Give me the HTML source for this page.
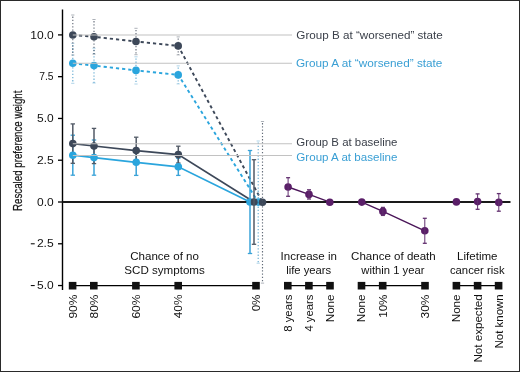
<!DOCTYPE html>
<html><head><meta charset="utf-8"><style>
html,body{margin:0;padding:0;background:#fff;}
svg{display:block;font-family:"Liberation Sans",sans-serif;}
svg{will-change:transform;}
</style></head><body>
<svg width="520" height="372" viewBox="0 0 520 372">
<rect x="0.5" y="0.5" width="519" height="371" fill="#fff" stroke="#2a2a2a" stroke-width="1"/>
<line x1="62.5" y1="9.5" x2="62.5" y2="290" stroke="#000" stroke-width="1.4"/>
<line x1="58" y1="34.90" x2="62.5" y2="34.90" stroke="#000" stroke-width="1.3"/>
<text x="30.29" y="38.60" font-size="11.5" fill="#111" textLength="23.39" lengthAdjust="spacingAndGlyphs">10.0</text>
<line x1="58" y1="76.67" x2="62.5" y2="76.67" stroke="#000" stroke-width="1.3"/>
<text x="39.27" y="80.38" font-size="11.5" fill="#111" textLength="14.36" lengthAdjust="spacingAndGlyphs">7.5</text>
<line x1="58" y1="118.45" x2="62.5" y2="118.45" stroke="#000" stroke-width="1.3"/>
<text x="37.02" y="122.15" font-size="11.5" fill="#111" textLength="16.65" lengthAdjust="spacingAndGlyphs">5.0</text>
<line x1="58" y1="160.22" x2="62.5" y2="160.22" stroke="#000" stroke-width="1.3"/>
<text x="36.90" y="163.92" font-size="11.5" fill="#111" textLength="16.81" lengthAdjust="spacingAndGlyphs">2.5</text>
<line x1="58" y1="202.00" x2="62.5" y2="202.00" stroke="#000" stroke-width="1.3"/>
<text x="37.03" y="205.70" font-size="11.5" fill="#111" textLength="16.64" lengthAdjust="spacingAndGlyphs">0.0</text>
<line x1="58" y1="243.78" x2="62.5" y2="243.78" stroke="#000" stroke-width="1.3"/>
<text x="36.90" y="247.47" font-size="11.5" fill="#111" textLength="16.81" lengthAdjust="spacingAndGlyphs">2.5</text>
<line x1="30.8" y1="243.78" x2="34.7" y2="243.78" stroke="#111" stroke-width="1.1"/>
<line x1="58" y1="285.55" x2="62.5" y2="285.55" stroke="#000" stroke-width="1.3"/>
<text x="37.02" y="289.25" font-size="11.5" fill="#111" textLength="16.65" lengthAdjust="spacingAndGlyphs">5.0</text>
<line x1="30.8" y1="285.55" x2="34.7" y2="285.55" stroke="#111" stroke-width="1.1"/>
<text transform="translate(22.00,210.90) rotate(-90)" font-size="13.3" fill="#111" textLength="120.36" lengthAdjust="spacingAndGlyphs" stroke="#222" stroke-width="0.25">Rescaled preference weight</text>
<line x1="72.6" y1="285.7" x2="256" y2="285.7" stroke="#000" stroke-width="1.3"/>
<rect x="68.8" y="281.9" width="7.6" height="7.6" fill="#111"/>
<text transform="translate(76.50,318.56) rotate(-90)" font-size="11.5" fill="#111" textLength="23.99" lengthAdjust="spacingAndGlyphs">90%</text>
<rect x="90.0" y="281.9" width="7.6" height="7.6" fill="#111"/>
<text transform="translate(97.70,318.51) rotate(-90)" font-size="11.5" fill="#111" textLength="23.94" lengthAdjust="spacingAndGlyphs">80%</text>
<rect x="132.1" y="281.9" width="7.6" height="7.6" fill="#111"/>
<text transform="translate(139.80,318.61) rotate(-90)" font-size="11.5" fill="#111" textLength="24.04" lengthAdjust="spacingAndGlyphs">60%</text>
<rect x="174.39999999999998" y="281.9" width="7.6" height="7.6" fill="#111"/>
<text transform="translate(182.10,318.27) rotate(-90)" font-size="11.5" fill="#111" textLength="23.69" lengthAdjust="spacingAndGlyphs">40%</text>
<rect x="252.2" y="281.9" width="7.6" height="7.6" fill="#111"/>
<text transform="translate(259.90,311.36) rotate(-90)" font-size="11.5" fill="#111" textLength="16.77" lengthAdjust="spacingAndGlyphs">0%</text>
<line x1="287.8" y1="285.7" x2="330" y2="285.7" stroke="#000" stroke-width="1.3"/>
<rect x="284.0" y="281.9" width="7.6" height="7.6" fill="#111"/>
<text transform="translate(291.70,331.79) rotate(-90)" font-size="11.5" fill="#111" textLength="37.20" lengthAdjust="spacingAndGlyphs">8 years</text>
<rect x="305.09999999999997" y="281.9" width="7.6" height="7.6" fill="#111"/>
<text transform="translate(312.80,331.56) rotate(-90)" font-size="11.5" fill="#111" textLength="36.97" lengthAdjust="spacingAndGlyphs">4 years</text>
<rect x="326.2" y="281.9" width="7.6" height="7.6" fill="#111"/>
<text transform="translate(333.90,322.25) rotate(-90)" font-size="11.5" fill="#111" textLength="27.77" lengthAdjust="spacingAndGlyphs">None</text>
<line x1="361.5" y1="285.7" x2="425" y2="285.7" stroke="#000" stroke-width="1.3"/>
<rect x="357.7" y="281.9" width="7.6" height="7.6" fill="#111"/>
<text transform="translate(365.40,322.25) rotate(-90)" font-size="11.5" fill="#111" textLength="27.77" lengthAdjust="spacingAndGlyphs">None</text>
<rect x="378.9" y="281.9" width="7.6" height="7.6" fill="#111"/>
<text transform="translate(386.60,317.81) rotate(-90)" font-size="11.5" fill="#111" textLength="23.22" lengthAdjust="spacingAndGlyphs">10%</text>
<rect x="421.2" y="281.9" width="7.6" height="7.6" fill="#111"/>
<text transform="translate(428.90,318.45) rotate(-90)" font-size="11.5" fill="#111" textLength="23.88" lengthAdjust="spacingAndGlyphs">30%</text>
<line x1="456.4" y1="285.7" x2="498.6" y2="285.7" stroke="#000" stroke-width="1.3"/>
<rect x="452.59999999999997" y="281.9" width="7.6" height="7.6" fill="#111"/>
<text transform="translate(460.30,322.25) rotate(-90)" font-size="11.5" fill="#111" textLength="27.77" lengthAdjust="spacingAndGlyphs">None</text>
<rect x="473.8" y="281.9" width="7.6" height="7.6" fill="#111"/>
<text transform="translate(481.50,362.55) rotate(-90)" font-size="11.5" fill="#111" textLength="68.30" lengthAdjust="spacingAndGlyphs">Not expected</text>
<rect x="494.8" y="281.9" width="7.6" height="7.6" fill="#111"/>
<text transform="translate(502.50,348.44) rotate(-90)" font-size="11.5" fill="#111" textLength="54.19" lengthAdjust="spacingAndGlyphs">Not known</text>
<text x="130.21" y="259.6" font-size="11.5" fill="#111" textLength="68.77" lengthAdjust="spacingAndGlyphs">Chance of no</text>
<text x="124.27" y="273.6" font-size="11.5" fill="#111" textLength="80.56" lengthAdjust="spacingAndGlyphs">SCD symptoms</text>
<text x="280.64" y="259.6" font-size="11.5" fill="#111" textLength="56.31" lengthAdjust="spacingAndGlyphs">Increase in</text>
<text x="286.15" y="273.6" font-size="11.5" fill="#111" textLength="45.07" lengthAdjust="spacingAndGlyphs">life years</text>
<text x="351.11" y="259.6" font-size="11.5" fill="#111" textLength="84.64" lengthAdjust="spacingAndGlyphs">Chance of death</text>
<text x="361.31" y="273.6" font-size="11.5" fill="#111" textLength="63.08" lengthAdjust="spacingAndGlyphs">within 1 year</text>
<text x="457.05" y="259.6" font-size="11.5" fill="#111" textLength="40.46" lengthAdjust="spacingAndGlyphs">Lifetime</text>
<text x="449.93" y="273.6" font-size="11.5" fill="#111" textLength="54.66" lengthAdjust="spacingAndGlyphs">cancer risk</text>
<text x="296.32" y="38.8" font-size="11.5" fill="#3b404a" textLength="146.50" lengthAdjust="spacingAndGlyphs">Group B at “worsened” state</text>
<text x="295.91" y="67.3" font-size="11.5" fill="#3a9fd4" textLength="146.51" lengthAdjust="spacingAndGlyphs">Group A at “worsened” state</text>
<text x="296.33" y="146.2" font-size="11.5" fill="#3b404a" textLength="101.17" lengthAdjust="spacingAndGlyphs">Group B at baseline</text>
<text x="296.32" y="160.6" font-size="11.5" fill="#3a9fd4" textLength="101.20" lengthAdjust="spacingAndGlyphs">Group A at baseline</text>
<polyline points="72.8,35 94,36.8 136,41.5 178.2,45.9 262.5,202.3" fill="none" stroke="#3d4859" stroke-width="1.9" stroke-dasharray="3.2 3"/>
<polyline points="72.8,63.3 94,65.6 136,70.4 178.2,74.9 258.2,202.1" fill="none" stroke="#2aa5dd" stroke-width="1.9" stroke-dasharray="3.2 3"/>
<polyline points="72.8,143.6 94,146 136.2,150.6 178.3,154.6 254,202" fill="none" stroke="#3d4859" stroke-width="1.7"/>
<polyline points="72.8,155.2 94,157.6 136.2,162.3 178.3,166.8 250,202" fill="none" stroke="#2aa5dd" stroke-width="1.7"/>
<polyline points="288.1,187 309,194.4 329.8,202.2" fill="none" stroke="#4a1558" stroke-width="1.4"/>
<polyline points="361.8,202.1 382.9,211.4 424.8,230.8" fill="none" stroke="#4a1558" stroke-width="1.4"/>
<polyline points="456.4,201.9 477.6,201.6 498.8,202.4" fill="none" stroke="#4a1558" stroke-width="1.4"/>
<line x1="62.5" y1="202" x2="510.5" y2="202" stroke="#1a1a1a" stroke-width="2"/>
<line x1="72.8" y1="44.9" x2="72.8" y2="83.3" stroke="#4e9fcc" stroke-width="1.15" stroke-dasharray="1.3 1.9" opacity="0.85"/>
<line x1="71.2" y1="43.3" x2="74.39999999999999" y2="43.3" stroke="#4e9fcc" stroke-width="1" opacity="0.45"/>
<line x1="71.2" y1="83.3" x2="74.39999999999999" y2="83.3" stroke="#4e9fcc" stroke-width="1" opacity="0.45"/>
<line x1="94" y1="49.8" x2="94" y2="83.0" stroke="#4e9fcc" stroke-width="1.15" stroke-dasharray="1.3 1.9" opacity="0.85"/>
<line x1="92.4" y1="48.199999999999996" x2="95.6" y2="48.199999999999996" stroke="#4e9fcc" stroke-width="1" opacity="0.45"/>
<line x1="92.4" y1="83.0" x2="95.6" y2="83.0" stroke="#4e9fcc" stroke-width="1" opacity="0.45"/>
<line x1="136" y1="58.400000000000006" x2="136" y2="84.0" stroke="#4e9fcc" stroke-width="1.15" stroke-dasharray="1.3 1.9" opacity="0.85"/>
<line x1="134.4" y1="56.800000000000004" x2="137.6" y2="56.800000000000004" stroke="#4e9fcc" stroke-width="1" opacity="0.45"/>
<line x1="134.4" y1="84.0" x2="137.6" y2="84.0" stroke="#4e9fcc" stroke-width="1" opacity="0.45"/>
<line x1="178.2" y1="67.5" x2="178.2" y2="83.9" stroke="#4e9fcc" stroke-width="1.15" stroke-dasharray="1.3 1.9" opacity="0.85"/>
<line x1="176.6" y1="65.9" x2="179.79999999999998" y2="65.9" stroke="#4e9fcc" stroke-width="1" opacity="0.45"/>
<line x1="176.6" y1="83.9" x2="179.79999999999998" y2="83.9" stroke="#4e9fcc" stroke-width="1" opacity="0.45"/>
<line x1="72.8" y1="16.6" x2="72.8" y2="55" stroke="#4a5463" stroke-width="1.15" stroke-dasharray="1.3 1.9" opacity="0.85"/>
<line x1="71.2" y1="15" x2="74.39999999999999" y2="15" stroke="#4a5463" stroke-width="1" opacity="0.45"/>
<line x1="71.2" y1="55" x2="74.39999999999999" y2="55" stroke="#4a5463" stroke-width="1" opacity="0.45"/>
<line x1="94" y1="21.099999999999998" x2="94" y2="54.099999999999994" stroke="#4a5463" stroke-width="1.15" stroke-dasharray="1.3 1.9" opacity="0.85"/>
<line x1="92.4" y1="19.499999999999996" x2="95.6" y2="19.499999999999996" stroke="#4a5463" stroke-width="1" opacity="0.45"/>
<line x1="92.4" y1="54.099999999999994" x2="95.6" y2="54.099999999999994" stroke="#4a5463" stroke-width="1" opacity="0.45"/>
<line x1="136" y1="29.900000000000002" x2="136" y2="54.7" stroke="#4a5463" stroke-width="1.15" stroke-dasharray="1.3 1.9" opacity="0.85"/>
<line x1="134.4" y1="28.3" x2="137.6" y2="28.3" stroke="#4a5463" stroke-width="1" opacity="0.45"/>
<line x1="134.4" y1="54.7" x2="137.6" y2="54.7" stroke="#4a5463" stroke-width="1" opacity="0.45"/>
<line x1="178.2" y1="38.5" x2="178.2" y2="54.9" stroke="#4a5463" stroke-width="1.15" stroke-dasharray="1.3 1.9" opacity="0.85"/>
<line x1="176.6" y1="36.9" x2="179.79999999999998" y2="36.9" stroke="#4a5463" stroke-width="1" opacity="0.45"/>
<line x1="176.6" y1="54.9" x2="179.79999999999998" y2="54.9" stroke="#4a5463" stroke-width="1" opacity="0.45"/>
<line x1="72.8" y1="135.2" x2="72.8" y2="175.2" stroke="#3aa3d8" stroke-width="1.5"/>
<line x1="70.6" y1="135.2" x2="75.0" y2="135.2" stroke="#3aa3d8" stroke-width="1.3"/>
<line x1="70.6" y1="175.2" x2="75.0" y2="175.2" stroke="#3aa3d8" stroke-width="1.3"/>
<line x1="94" y1="140.0" x2="94" y2="175.2" stroke="#3aa3d8" stroke-width="1.5"/>
<line x1="91.8" y1="140.0" x2="96.2" y2="140.0" stroke="#3aa3d8" stroke-width="1.3"/>
<line x1="91.8" y1="175.2" x2="96.2" y2="175.2" stroke="#3aa3d8" stroke-width="1.3"/>
<line x1="136.2" y1="149.20000000000002" x2="136.2" y2="175.4" stroke="#3aa3d8" stroke-width="1.5"/>
<line x1="134.0" y1="149.20000000000002" x2="138.39999999999998" y2="149.20000000000002" stroke="#3aa3d8" stroke-width="1.3"/>
<line x1="134.0" y1="175.4" x2="138.39999999999998" y2="175.4" stroke="#3aa3d8" stroke-width="1.3"/>
<line x1="178.3" y1="158.20000000000002" x2="178.3" y2="175.4" stroke="#3aa3d8" stroke-width="1.5"/>
<line x1="176.10000000000002" y1="158.20000000000002" x2="180.5" y2="158.20000000000002" stroke="#3aa3d8" stroke-width="1.3"/>
<line x1="176.10000000000002" y1="175.4" x2="180.5" y2="175.4" stroke="#3aa3d8" stroke-width="1.3"/>
<line x1="72.8" y1="123.89999999999999" x2="72.8" y2="163.29999999999998" stroke="#525a66" stroke-width="1.5"/>
<line x1="70.6" y1="123.89999999999999" x2="75.0" y2="123.89999999999999" stroke="#525a66" stroke-width="1.3"/>
<line x1="70.6" y1="163.29999999999998" x2="75.0" y2="163.29999999999998" stroke="#525a66" stroke-width="1.3"/>
<line x1="94" y1="128.4" x2="94" y2="163.6" stroke="#525a66" stroke-width="1.5"/>
<line x1="91.8" y1="128.4" x2="96.2" y2="128.4" stroke="#525a66" stroke-width="1.3"/>
<line x1="91.8" y1="163.6" x2="96.2" y2="163.6" stroke="#525a66" stroke-width="1.3"/>
<line x1="136.2" y1="137.2" x2="136.2" y2="164.0" stroke="#525a66" stroke-width="1.5"/>
<line x1="134.0" y1="137.2" x2="138.39999999999998" y2="137.2" stroke="#525a66" stroke-width="1.3"/>
<line x1="134.0" y1="164.0" x2="138.39999999999998" y2="164.0" stroke="#525a66" stroke-width="1.3"/>
<line x1="178.3" y1="146.2" x2="178.3" y2="163.0" stroke="#525a66" stroke-width="1.5"/>
<line x1="176.10000000000002" y1="146.2" x2="180.5" y2="146.2" stroke="#525a66" stroke-width="1.3"/>
<line x1="176.10000000000002" y1="163.0" x2="180.5" y2="163.0" stroke="#525a66" stroke-width="1.3"/>
<circle cx="72.8" cy="63.3" r="3.8" fill="#2aa5dd"/>
<circle cx="94" cy="65.6" r="3.8" fill="#2aa5dd"/>
<circle cx="136" cy="70.4" r="3.8" fill="#2aa5dd"/>
<circle cx="178.2" cy="74.9" r="3.8" fill="#2aa5dd"/>
<circle cx="258.2" cy="202.1" r="3.8" fill="#2aa5dd"/>
<circle cx="72.8" cy="35" r="3.8" fill="#3d4859"/>
<circle cx="94" cy="36.8" r="3.8" fill="#3d4859"/>
<circle cx="136" cy="41.5" r="3.8" fill="#3d4859"/>
<circle cx="178.2" cy="45.9" r="3.8" fill="#3d4859"/>
<circle cx="262.5" cy="202.3" r="3.8" fill="#3d4859"/>
<circle cx="72.8" cy="155.2" r="3.8" fill="#2aa5dd"/>
<circle cx="94" cy="157.6" r="3.8" fill="#2aa5dd"/>
<circle cx="136.2" cy="162.3" r="3.8" fill="#2aa5dd"/>
<circle cx="178.3" cy="166.8" r="3.8" fill="#2aa5dd"/>
<circle cx="250" cy="202" r="3.8" fill="#2aa5dd"/>
<circle cx="72.8" cy="143.6" r="3.8" fill="#3d4859"/>
<circle cx="94" cy="146" r="3.8" fill="#3d4859"/>
<circle cx="136.2" cy="150.6" r="3.8" fill="#3d4859"/>
<circle cx="178.3" cy="154.6" r="3.8" fill="#3d4859"/>
<circle cx="254" cy="202" r="3.8" fill="#3d4859"/>
<circle cx="288.1" cy="187" r="3.8" fill="#5a1e68"/>
<circle cx="309" cy="194.4" r="3.8" fill="#5a1e68"/>
<circle cx="329.8" cy="202.2" r="3.8" fill="#5a1e68"/>
<circle cx="361.8" cy="202.1" r="3.8" fill="#5a1e68"/>
<circle cx="382.9" cy="211.4" r="3.8" fill="#5a1e68"/>
<circle cx="424.8" cy="230.8" r="3.8" fill="#5a1e68"/>
<circle cx="456.4" cy="201.9" r="3.8" fill="#5a1e68"/>
<circle cx="477.6" cy="201.6" r="3.8" fill="#5a1e68"/>
<circle cx="498.8" cy="202.4" r="3.8" fill="#5a1e68"/>
<line x1="258.2" y1="142.6" x2="258.2" y2="263.2" stroke="#4e9fcc" stroke-width="1.15" stroke-dasharray="1.3 1.9" opacity="0.85"/>
<line x1="256.59999999999997" y1="141.0" x2="259.8" y2="141.0" stroke="#4e9fcc" stroke-width="1" opacity="0.45"/>
<line x1="256.59999999999997" y1="263.2" x2="259.8" y2="263.2" stroke="#4e9fcc" stroke-width="1" opacity="0.45"/>
<line x1="262.5" y1="123.10000000000001" x2="262.5" y2="283.1" stroke="#4a5463" stroke-width="1.15" stroke-dasharray="1.3 1.9" opacity="0.85"/>
<line x1="260.9" y1="121.50000000000001" x2="264.1" y2="121.50000000000001" stroke="#4a5463" stroke-width="1" opacity="0.45"/>
<line x1="260.9" y1="283.1" x2="264.1" y2="283.1" stroke="#4a5463" stroke-width="1" opacity="0.45"/>
<line x1="254" y1="159.7" x2="254" y2="244.3" stroke="#525a66" stroke-width="1.5"/>
<line x1="251.8" y1="159.7" x2="256.2" y2="159.7" stroke="#525a66" stroke-width="1.3"/>
<line x1="251.8" y1="244.3" x2="256.2" y2="244.3" stroke="#525a66" stroke-width="1.3"/>
<line x1="250" y1="150.5" x2="250" y2="253.5" stroke="#3aa3d8" stroke-width="1.5"/>
<line x1="247.8" y1="150.5" x2="252.2" y2="150.5" stroke="#3aa3d8" stroke-width="1.3"/>
<line x1="247.8" y1="253.5" x2="252.2" y2="253.5" stroke="#3aa3d8" stroke-width="1.3"/>
<line x1="288.1" y1="177.7" x2="288.1" y2="196.3" stroke="#62306f" stroke-width="1.0"/>
<line x1="286.1" y1="177.7" x2="290.1" y2="177.7" stroke="#62306f" stroke-width="1.3"/>
<line x1="286.1" y1="196.3" x2="290.1" y2="196.3" stroke="#62306f" stroke-width="1.3"/>
<line x1="309" y1="189.8" x2="309" y2="199.0" stroke="#62306f" stroke-width="1.0"/>
<line x1="307.0" y1="189.8" x2="311.0" y2="189.8" stroke="#62306f" stroke-width="1.3"/>
<line x1="307.0" y1="199.0" x2="311.0" y2="199.0" stroke="#62306f" stroke-width="1.3"/>


<line x1="382.9" y1="207.4" x2="382.9" y2="215.4" stroke="#62306f" stroke-width="1.0"/>
<line x1="380.9" y1="207.4" x2="384.9" y2="207.4" stroke="#62306f" stroke-width="1.3"/>
<line x1="380.9" y1="215.4" x2="384.9" y2="215.4" stroke="#62306f" stroke-width="1.3"/>
<line x1="424.8" y1="218.3" x2="424.8" y2="243.3" stroke="#62306f" stroke-width="1.0"/>
<line x1="422.8" y1="218.3" x2="426.8" y2="218.3" stroke="#62306f" stroke-width="1.3"/>
<line x1="422.8" y1="243.3" x2="426.8" y2="243.3" stroke="#62306f" stroke-width="1.3"/>

<line x1="477.6" y1="193.9" x2="477.6" y2="209.29999999999998" stroke="#62306f" stroke-width="1.0"/>
<line x1="475.6" y1="193.9" x2="479.6" y2="193.9" stroke="#62306f" stroke-width="1.3"/>
<line x1="475.6" y1="209.29999999999998" x2="479.6" y2="209.29999999999998" stroke="#62306f" stroke-width="1.3"/>
<line x1="498.8" y1="193.6" x2="498.8" y2="211.20000000000002" stroke="#62306f" stroke-width="1.0"/>
<line x1="496.8" y1="193.6" x2="500.8" y2="193.6" stroke="#62306f" stroke-width="1.3"/>
<line x1="496.8" y1="211.20000000000002" x2="500.8" y2="211.20000000000002" stroke="#62306f" stroke-width="1.3"/>
<line x1="72.8" y1="35" x2="292" y2="35" stroke="#c2c2c2" stroke-width="1.1"/>
<line x1="72.8" y1="63.3" x2="292" y2="63.3" stroke="#c2c2c2" stroke-width="1.1"/>
<line x1="72.8" y1="143.8" x2="292" y2="143.8" stroke="#c2c2c2" stroke-width="1.1"/>
<line x1="72.8" y1="155.5" x2="292" y2="155.5" stroke="#c2c2c2" stroke-width="1.1"/>
</svg>
</body></html>
